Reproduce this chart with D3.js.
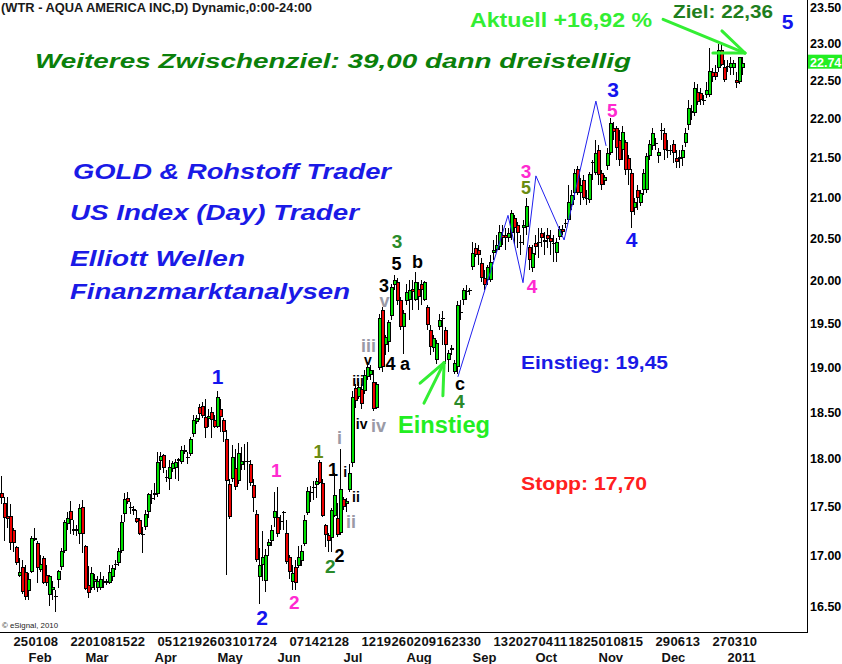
<!DOCTYPE html>
<html>
<head>
<meta charset="utf-8">
<script src="https://cdn.jsdelivr.net/npm/d3@7"></script>
<style>
  body { margin: 0; background: #fff; }
  svg text { font-family: "Liberation Sans", Arial, sans-serif; font-weight: bold; }
</style>
</head>
<body>
<div id="chart_area"></div>
<script>
// daily bars of WTR, first bar 2010-01-19, last bar 2011-01-10
var open = [
  17.64,17.53,17.40,17.40,17.26,17.08,16.79,16.88,16.83,16.65,
  16.83,17.18,17.13,16.85,16.97,16.80,16.61,16.66,16.59,16.76,
  16.88,17.04,17.32,17.45,17.27,17.25,17.22,17.49,17.10,16.71,
  16.68,16.74,16.68,16.68,16.73,16.73,16.73,16.78,16.90,16.92,
  17.04,17.42,17.59,17.49,17.47,17.38,17.36,17.22,17.29,17.44,
  17.59,17.62,17.63,17.97,18.04,17.81,17.78,17.89,17.90,18.00,
  17.96,18.07,18.02,18.05,18.26,18.39,18.56,18.57,18.45,18.43,
  18.50,18.42,18.34,18.54,18.42,18.21,17.73,17.78,17.90,17.76,
  17.93,17.96,17.97,17.94,17.72,17.42,16.78,16.90,16.75,17.09,
  17.15,17.38,17.39,17.35,17.44,17.23,16.98,16.74,16.88,16.89,
  16.94,17.12,17.43,17.65,17.69,17.72,17.96,17.74,17.31,17.21,
  17.18,17.40,17.38,17.23,17.58,17.52,17.67,17.95,18.77,18.67,
  18.75,18.73,18.89,18.91,18.83,18.55,18.99,19.65,19.25,19.28,
  19.58,19.94,19.98,19.77,19.46,19.75,19.77,19.90,19.77,19.90,
  19.96,19.77,19.68,19.42,19.21,19.08,19.46,19.55,19.42,19.08,
  19.22,18.95,19.00,19.62,19.77,19.86,19.87,20.16,20.38,20.36,
  20.20,20.02,20.00,20.00,20.32,20.36,20.40,20.54,20.54,20.50,
  20.56,20.75,20.66,20.45,20.62,20.64,20.40,20.14,20.44,20.45,
  20.56,20.45,20.54,20.51,20.44,20.32,20.52,20.61,20.68,20.72,
  20.91,21.05,21.36,21.05,21.22,20.99,20.97,21.44,21.30,21.60,
  21.31,21.20,21.40,21.56,21.88,21.88,21.72,21.60,21.70,21.50,
  21.31,20.87,21.09,20.93,21.09,21.09,21.52,21.65,21.69,21.52,
  21.86,21.82,21.60,21.59,21.68,21.50,21.51,21.50,21.69,21.92,
  22.10,22.07,22.35,22.34,22.25,22.31,22.31,22.61,22.61,22.67,
  22.91,22.68,22.69,22.67,22.67,22.51,22.48,22.67
];
var high = [
  17.82,17.60,17.60,17.52,17.28,17.10,16.97,16.95,16.90,16.82,
  17.20,17.28,17.15,17.00,16.99,16.90,16.80,16.75,16.66,16.85,
  17.07,17.36,17.44,17.56,17.36,17.31,17.52,17.57,17.11,16.89,
  16.88,16.81,16.79,16.83,16.79,16.77,16.90,16.90,16.95,17.07,
  17.41,17.64,17.65,17.54,17.50,17.46,17.38,17.29,17.46,17.64,
  17.67,17.74,18.07,18.07,18.05,17.88,17.99,17.97,18.00,18.01,
  18.13,18.14,18.07,18.23,18.47,18.47,18.59,18.61,18.65,18.53,
  18.56,18.47,18.73,18.64,18.44,18.31,17.78,18.15,18.10,18.17,
  18.12,18.16,18.18,17.99,17.78,17.46,17.07,17.25,17.06,17.17,
  17.31,17.65,17.70,17.41,17.45,17.36,17.00,16.90,16.95,17.10,
  17.11,17.41,17.70,17.71,17.76,17.80,17.99,17.78,17.32,17.23,
  17.48,17.85,17.53,18.10,17.60,17.59,17.94,18.73,18.81,18.83,
  18.81,18.97,19.06,19.02,18.97,18.83,19.60,19.68,19.36,19.54,
  19.96,20.06,20.02,19.80,19.65,19.96,20.00,20.00,20.10,19.98,
  20.00,19.99,19.71,19.48,19.36,19.31,19.60,19.64,19.46,19.19,
  19.25,19.08,19.75,19.77,19.91,19.94,19.91,20.46,20.44,20.42,
  20.26,20.12,20.18,20.30,20.48,20.54,20.66,20.66,20.62,20.62,
  20.84,20.78,20.70,20.54,20.72,20.99,20.42,20.42,20.54,20.62,
  20.62,20.58,20.62,20.60,20.54,20.50,20.65,20.66,20.74,21.15,
  21.09,21.36,21.40,21.24,21.28,21.09,21.32,21.47,21.72,21.66,
  21.34,21.28,21.62,22.01,21.96,21.91,21.85,21.91,21.72,21.53,
  21.36,20.99,21.15,21.09,21.36,21.56,21.72,21.88,21.75,21.62,
  21.94,21.88,21.72,21.66,21.72,21.60,21.60,21.66,21.88,22.24,
  22.18,22.48,22.45,22.40,22.31,22.48,22.94,22.67,22.71,22.99,
  22.99,22.78,22.78,22.81,22.78,22.61,22.82,22.81
];
var low = [
  17.52,17.15,17.28,17.05,17.03,16.90,16.78,16.62,16.56,16.56,
  16.82,17.15,16.73,16.83,16.72,16.70,16.50,16.56,16.44,16.68,
  16.85,17.02,17.26,17.22,17.21,17.20,17.12,17.02,16.66,16.58,
  16.66,16.66,16.64,16.66,16.68,16.71,16.72,16.75,16.85,16.89,
  17.02,17.34,17.52,17.42,17.41,17.33,17.21,17.02,17.26,17.38,
  17.52,17.57,17.60,17.88,17.85,17.75,17.67,17.86,17.78,17.76,
  17.94,18.05,17.94,18.03,18.23,18.37,18.42,18.44,18.22,18.34,
  18.22,18.33,18.33,18.29,18.18,16.80,17.37,17.75,17.67,17.73,
  17.88,17.88,17.67,17.71,17.44,16.93,16.52,16.75,16.64,16.99,
  17.10,17.29,17.19,17.26,17.26,16.91,16.77,16.66,16.66,16.87,
  16.89,17.10,17.41,17.55,17.57,17.59,17.73,17.39,17.08,17.03,
  17.03,17.39,17.19,17.21,17.46,17.44,17.65,17.91,18.55,18.64,
  18.53,18.70,18.86,18.86,18.51,18.53,18.97,18.95,19.14,19.17,
  19.54,19.88,19.71,19.42,19.15,19.71,19.54,19.65,19.75,19.65,
  19.71,19.75,19.42,19.14,19.17,19.03,19.42,19.25,19.03,18.94,
  19.14,18.92,18.92,19.54,19.71,19.77,19.82,20.12,20.27,20.18,
  19.98,19.88,19.94,19.98,20.24,20.34,20.36,20.42,20.36,20.45,
  20.48,20.42,20.38,20.30,20.42,20.54,20.12,20.10,20.30,20.26,
  20.40,20.30,20.38,20.30,20.22,20.22,20.48,20.54,20.62,20.70,
  20.84,20.97,21.03,20.91,20.97,20.91,20.93,21.22,21.28,21.15,
  21.09,21.15,21.34,21.53,21.72,21.47,21.40,21.47,21.28,21.15,
  20.62,20.78,20.84,20.90,21.03,21.06,21.47,21.60,21.60,21.43,
  21.72,21.47,21.50,21.53,21.43,21.37,21.37,21.40,21.63,21.85,
  21.98,22.04,22.18,22.18,22.18,22.27,22.28,22.48,22.51,22.61,
  22.70,22.48,22.61,22.58,22.58,22.40,22.45,22.58
];
var close = [
  17.59,17.38,17.37,17.13,17.13,16.92,16.83,16.64,16.59,16.77,
  17.18,17.16,16.87,16.91,16.73,16.73,16.79,16.69,16.60,16.84,
  17.04,17.34,17.38,17.36,17.25,17.27,17.48,17.22,16.67,16.63,
  16.82,16.77,16.75,16.77,16.75,16.75,16.83,16.87,16.91,17.04,
  17.34,17.58,17.54,17.48,17.45,17.34,17.22,17.21,17.42,17.63,
  17.58,17.64,17.96,18.03,17.90,17.80,17.91,17.95,17.96,17.97,
  18.09,18.09,18.01,18.21,18.42,18.44,18.48,18.46,18.33,18.46,
  18.42,18.34,18.67,18.45,18.29,17.76,17.39,18.02,17.70,18.06,
  17.97,17.97,17.96,17.74,17.59,16.95,16.90,16.98,17.00,17.14,
  17.26,17.45,17.22,17.34,17.43,16.93,16.83,16.82,16.73,16.98,
  17.04,17.36,17.66,17.64,17.70,17.76,17.74,17.40,17.21,17.15,
  17.46,17.62,17.21,17.68,17.49,17.56,17.85,18.67,18.62,18.78,
  18.59,18.91,19.00,18.97,18.53,18.81,19.56,19.00,19.34,19.51,
  19.92,20.00,19.75,19.45,19.62,19.86,19.88,19.86,19.98,19.80,
  19.88,19.98,19.48,19.23,19.33,19.27,19.54,19.56,19.25,19.16,
  19.19,19.05,19.71,19.63,19.88,19.87,19.88,20.32,20.30,20.30,
  20.02,19.94,20.16,20.22,20.36,20.42,20.58,20.50,20.50,20.56,
  20.81,20.62,20.56,20.44,20.66,20.90,20.24,20.32,20.40,20.44,
  20.50,20.48,20.49,20.45,20.43,20.45,20.61,20.58,20.69,20.94,
  21.03,21.31,21.06,21.15,20.99,20.98,21.29,21.43,21.56,21.28,
  21.15,21.26,21.56,21.94,21.83,21.62,21.47,21.83,21.34,21.34,
  20.82,20.94,20.99,21.05,21.31,21.52,21.68,21.82,21.68,21.57,
  21.85,21.60,21.59,21.60,21.56,21.45,21.48,21.60,21.82,22.14,
  22.07,22.40,22.22,22.24,22.24,22.38,22.63,22.55,22.55,22.91,
  22.71,22.51,22.70,22.74,22.74,22.47,22.81,22.74
];

// calendar
var firstDay = "2010-01-19";
var holidays = ["2010-02-15","2010-04-02","2010-05-31","2010-07-05","2010-09-06","2010-11-25","2010-12-24"];
var weekTicks = ["2010-01-25","2010-02-01","2010-02-08","2010-02-22","2010-03-01","2010-03-08","2010-03-15","2010-03-22",
  "2010-04-05","2010-04-12","2010-04-19","2010-04-26","2010-05-03","2010-05-10","2010-05-17","2010-05-24",
  "2010-06-07","2010-06-14","2010-06-21","2010-06-28","2010-07-12","2010-07-19","2010-07-26","2010-08-02",
  "2010-08-09","2010-08-16","2010-08-23","2010-08-30","2010-09-13","2010-09-20","2010-09-27","2010-10-04",
  "2010-10-11","2010-10-18","2010-10-25","2010-11-01","2010-11-08","2010-11-15","2010-11-29","2010-12-06",
  "2010-12-13","2010-12-27","2011-01-03","2011-01-10"];
var monthTicks = ["2010-02-01","2010-03-01","2010-04-01","2010-05-03","2010-06-01","2010-07-01",
  "2010-08-02","2010-09-01","2010-10-01","2010-11-01","2010-12-01","2011-01-03"];
var monthNames = ["Feb","Mar","Apr","May","Jun","Jul","Aug","Sep","Oct","Nov","Dec","2011"];
var priceTicks = [16.5,17,17.5,18,18.5,19,19.5,20,20.5,21,21.5,22,22.5,23,23.5];
var lastPrice = 22.74;

// Elliott wave counts: text, bar, price, degree
var waveLabels = [
  ["1",72.2,18.89,"B"],["2",87,16.39,"B"],["3",204,22.39,"B"],["4",210.2,20.49,"B"],["5",262.2,23.30,"B"],
  ["1",91.8,17.88,"M"],["2",97.8,16.54,"M"],["3",175,21.33,"M"],["4",177,19.93,"M"],["5",203.8,22.11,"M"],
  ["1",105.8,18.08,"O"],["5",175,21.12,"O"],
  ["2",109.8,16.89,"G"],["3",132,20.47,"G"],["4",152.8,18.62,"G"],
  ["1",110.7,17.88,"K"],["2",112.8,17.00,"K"],["3",127.7,19.94,"K"],["4",129.8,19.04,"K"],["5",131.8,20.20,"K"],
  ["a",134.7,19.02,"K"],["b",138.8,20.22,"K"],["c",153,18.80,"K"],
  ["i",114.7,17.86,"k"],["ii",118.3,17.60,"k"],["iii",119,18.85,"k"],["iv",120.2,18.37,"k"],["v",122.3,19.07,"k"],
  ["i",112.8,18.23,"S"],["ii",116.7,17.34,"S"],["iii",122.5,19.24,"S"],["iv",125.8,18.36,"S"],["v",127.8,19.74,"S"]
];
var wavePath = [[152.3,18.89],[169,20.78],[174,19.97],[178.3,21.27],[187.7,20.48],[198.3,22.23],[201.7,21.65]];
var entryTip = [147.7,19.05];
var entryTails = [[141,18.60],[147.3,18.68],[139.7,18.82]];
var targetTip = [248,22.87];
var targetTails = [[220.7,23.33],[240.3,23.17],[237.3,22.87]];

var degreeStyle = {
  B: {size: 21, color: "#1414ee"},
  M: {size: 19, color: "#ff2ad0"},
  O: {size: 18, color: "#6a8c12"},
  G: {size: 19, color: "#2a8a2a"},
  K: {size: 18, color: "#000000"},
  k: {size: 14, color: "#000000"},
  S: {size: 18, color: "#9a9aa6"}
};

// trading days from firstDay, skipping weekends and holidays
var parseDay = d3.utcParse("%Y-%m-%d"), fmtDay = d3.utcFormat("%Y-%m-%d");
var days = [];
var d = parseDay(firstDay);
while (days.length < close.length + 5) {
  var wd = d.getUTCDay();
  if (wd > 0 && wd < 6 && holidays.indexOf(fmtDay(d)) < 0) days.push(fmtDay(d));
  d = d3.utcDay.offset(d, 1);
}

var svg = d3.select("#chart_area").append("svg").attr("width", 842).attr("height", 664);
var n = close.length;
var x = d3.scaleLinear().domain([0, n - 1]).range([1, 742]);
var y = d3.scaleLog().domain([16.5, 23.5]).range([606, 7]);

// frame
svg.append("line").attr("x1", 807.5).attr("x2", 807.5).attr("y1", 0).attr("y2", 633)
  .attr("stroke", "#000").attr("stroke-width", 1);
svg.append("line").attr("x1", 0).attr("x2", 808).attr("y1", 632.5).attr("y2", 632.5)
  .attr("stroke", "#000").attr("stroke-width", 1);

// candles
var idx = d3.range(n);
function bodyTop(i) { return Math.round(y(Math.max(open[i], close[i]))); }
function bodyH(i) { return Math.max(1, Math.round(y(Math.min(open[i], close[i]))) - bodyTop(i)); }
var bars = svg.append("g").attr("shape-rendering", "crispEdges");
bars.selectAll(".wick").data(idx).enter().append("rect").attr("class", "wick")
  .attr("x", function(i) { return Math.round(x(i)); })
  .attr("y", function(i) { return Math.round(y(high[i])); })
  .attr("width", 1)
  .attr("height", function(i) { return Math.max(1, Math.round(y(low[i])) - Math.round(y(high[i]))); })
  .attr("fill", "#000");
var body = bars.selectAll(".body").data(idx).enter().append("g").attr("class", "body");
body.append("rect")
  .attr("x", function(i) { return Math.round(x(i)) - 1; })
  .attr("y", bodyTop)
  .attr("width", 4)
  .attr("height", bodyH)
  .attr("fill", "#000");
body.filter(function(i) { return bodyH(i) > 2; }).append("rect")
  .attr("x", function(i) { return Math.round(x(i)); })
  .attr("y", function(i) { return bodyTop(i) + 1; })
  .attr("width", 2)
  .attr("height", function(i) { return bodyH(i) - 2; })
  .attr("fill", function(i) { return close[i] >= open[i] ? "#00e000" : "#ee0000"; });

// y axis
var yAxis = d3.axisRight(y).tickValues(priceTicks).tickSize(0).tickPadding(3).tickFormat(d3.format(".2f"));
var ya = svg.append("g").attr("transform", "translate(807,0)").call(yAxis);
ya.select(".domain").remove();
ya.selectAll("text").attr("font-size", 12.5).attr("fill", "#000");

svg.append("rect").attr("x", 808).attr("y", y(lastPrice) - 8).attr("width", 34).attr("height", 14).attr("fill", "#22ee22");
svg.append("text").attr("x", 810).attr("y", y(lastPrice) + 4).attr("font-size", 12.5).attr("fill", "#fff")
  .text(d3.format(".2f")(lastPrice));

// x axis, weeks and months
var weekIdx = weekTicks.map(function(s) { return days.indexOf(s); });
var xAxis = d3.axisBottom(x).tickValues(weekIdx).tickSize(0)
  .tickFormat(function(i) { return days[i].slice(8, 10); });
var xa = svg.append("g").attr("transform", "translate(0,632)").call(xAxis);
xa.select(".domain").remove();
xa.selectAll("text").attr("y", 14).attr("dy", 0).attr("text-anchor", "start").attr("font-size", 13).attr("fill", "#111");

var monthIdx = monthTicks.map(function(s) { return days.indexOf(s); });
var mAxis = d3.axisBottom(x).tickValues(monthIdx).tickSize(0)
  .tickFormat(function(i, k) { return monthNames[k]; });
var ma = svg.append("g").attr("transform", "translate(0,632)").call(mAxis);
ma.select(".domain").remove();
ma.selectAll("text").attr("y", 30).attr("dy", 0).attr("text-anchor", "start").attr("font-size", 13).attr("fill", "#111");

// wave path
svg.append("path").datum(wavePath)
  .attr("d", d3.line().x(function(p) { return x(p[0]); }).y(function(p) { return y(p[1]); }))
  .attr("fill", "none").attr("stroke", "#2020ee").attr("stroke-width", 1);

// wave labels
svg.append("g").selectAll("text").data(waveLabels).enter().append("text")
  .attr("x", function(w) { return x(w[1]); })
  .attr("y", function(w) { return y(w[2]); })
  .attr("dy", function(w) { return /^[acv]$/.test(w[0]) ? "0.27em" : "0.36em"; })
  .attr("text-anchor", "middle")
  .attr("font-size", function(w) { return degreeStyle[w[3]].size; })
  .attr("fill", function(w) { return degreeStyle[w[3]].color; })
  .text(function(w) { return w[0]; });

// arrows
function arrow(tip, tails) {
  svg.append("g").selectAll("line").data(tails).enter().append("line")
    .attr("x1", function(t) { return x(t[0]); }).attr("y1", function(t) { return y(t[1]); })
    .attr("x2", x(tip[0])).attr("y2", y(tip[1]))
    .attr("stroke", "#33ee33").attr("stroke-width", 3).attr("stroke-linecap", "round");
}
arrow(entryTip, entryTails);
arrow(targetTip, targetTails);

// commentary
function note(str, left, base, size, color, width, italic, weight) {
  var t = svg.append("text").attr("x", left).attr("y", base).attr("font-size", size).attr("fill", color).text(str);
  if (italic) t.attr("font-style", "italic");
  if (weight) t.style("font-weight", weight);
  if (width) t.attr("textLength", width).attr("lengthAdjust", "spacingAndGlyphs");
  return t;
}
note("(WTR - AQUA AMERICA INC,D) Dynamic,0:00-24:00", 1, 12, 12, "#1a1a1a", 311);
note("Weiteres Zwischenziel: 39,00 dann dreistellig", 35, 68, 21, "#0b800b", 596, true);
note("Aktuell +16,92 %", 470, 27, 21, "#33ee33", 182);
note("Ziel: 22,36", 673, 18, 19, "#1e7e1e", 100);
note("GOLD & Rohstoff Trader", 73, 179, 22, "#1a1ae6", 318, true);
note("US Index (Day) Trader", 70, 220, 22, "#1a1ae6", 289, true);
note("Elliott Wellen", 70, 266, 22, "#1a1ae6", 175, true);
note("Finanzmarktanalysen", 70, 299, 22, "#1a1ae6", 280, true);
note("Einstieg: 19,45", 521, 369, 18, "#1a1ae6", 147);
note("Stopp: 17,70", 521, 490, 18, "#ff2020", 126);
note("Einstieg", 398, 433, 23, "#22ee22", 92);
note("\u00a9 eSignal, 2010", 2, 628, 8, "#222", 56, false, "normal");
</script>
</body>
</html>
